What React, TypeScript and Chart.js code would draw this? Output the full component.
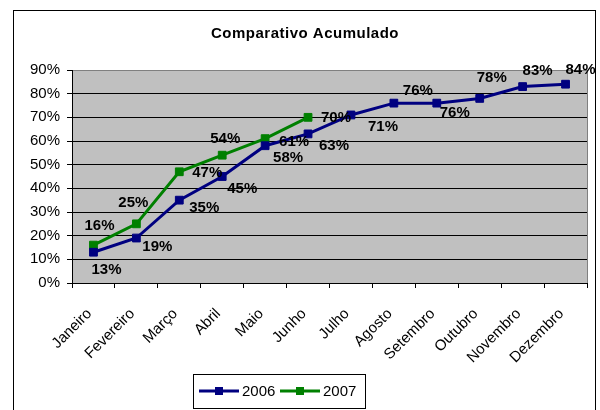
import React, { useEffect, useRef } from "react";
import { Chart, registerables } from "chart.js";

Chart.register(...registerables);

const months = [
  "Janeiro", "Fevereiro", "Março", "Abril", "Maio", "Junho",
  "Julho", "Agosto", "Setembro", "Outubro", "Novembro", "Dezembro",
];
const values2006 = [13, 19, 35, 45, 58, 63, 71, 76, 76, 78, 83, 84];
const values2007 = [16, 25, 47, 54, 61, 70];
const yTicks = [0, 10, 20, 30, 40, 50, 60, 70, 80, 90];
const chartTitle = "Comparativo Acumulado";

// label placement (style): offset of label centre from its point
const labelOffsets2006: [number, number][] = [
  [13, 18], [21, 9], [25, 8], [20, 12], [23, 12], [26, 12],
  [32, 12], [24, -12], [18, 10], [12, -21], [15, -16], [15, -14],
];
const labelOffsets2007: [number, number][] = [
  [6, -19], [-3, -21], [28, 1], [3, -16], [29, 3], [28, 1],
];

const FONT = '"Liberation Sans", Arial, sans-serif';
const NAVY = "#000080";
const GREEN = "#008000";

const framePlugin = {
  id: "frame",
  beforeDraw(chart: any) {
    const { ctx, chartArea } = chart;
    ctx.save();
    ctx.fillStyle = "#ffffff";
    ctx.fillRect(0, 0, chart.width, chart.height);
    ctx.strokeStyle = "#000";
    ctx.lineWidth = 1;
    ctx.strokeRect(13.5, 10.5, 582, 430);
    ctx.fillStyle = "#C0C0C0";
    ctx.fillRect(chartArea.left, chartArea.top, chartArea.right - chartArea.left, chartArea.bottom - chartArea.top);
    // title
    ctx.fillStyle = "#000";
    ctx.font = `bold 15px ${FONT}`;
    ctx.textAlign = "center";
    ctx.textBaseline = "middle";
    (ctx as any).letterSpacing = "0.5px";
    ctx.fillText(chartTitle, 305, 34);
    ctx.restore();
  },
  beforeDatasetsDraw(chart: any) {
    const { ctx, chartArea } = chart;
    ctx.save();
    ctx.strokeStyle = "#808080";
    ctx.lineWidth = 1;
    ctx.beginPath();
    ctx.moveTo(Math.round(chartArea.right) + 0.5, chartArea.top);
    ctx.lineTo(Math.round(chartArea.right) + 0.5, chartArea.bottom);
    ctx.stroke();
    ctx.restore();
  },
  afterDatasetsDraw(chart: any) {
    const { ctx } = chart;
    ctx.save();
    ctx.fillStyle = "#000";
    ctx.font = `bold 15px ${FONT}`;
    ctx.textAlign = "center";
    ctx.textBaseline = "middle";
    const offs = [labelOffsets2006, labelOffsets2007];
    chart.data.datasets.forEach((ds: any, di: number) => {
      const meta = chart.getDatasetMeta(di);
      meta.data.forEach((pt: any, i: number) => {
        const [dx, dy] = offs[di][i] || [0, 0];
        ctx.fillText(ds.data[i] + "%", pt.x + dx, pt.y + dy);
      });
    });
    ctx.restore();
  },
  afterDraw(chart: any) {
    const { ctx } = chart;
    ctx.save();
    ctx.strokeStyle = "#000";
    ctx.lineWidth = 1;
    ctx.fillStyle = "#fff";
    ctx.fillRect(193.5, 374.5, 172, 34);
    ctx.strokeRect(193.5, 374.5, 172, 34);
    const items = [
      { label: chart.data.datasets[0].label, color: NAVY, x: 199 },
      { label: chart.data.datasets[1].label, color: GREEN, x: 280 },
    ];
    const cy = 391;
    items.forEach((it) => {
      ctx.strokeStyle = it.color;
      ctx.lineWidth = 3;
      ctx.beginPath();
      ctx.moveTo(it.x, cy);
      ctx.lineTo(it.x + 40, cy);
      ctx.stroke();
      ctx.fillStyle = it.color;
      ctx.fillRect(it.x + 16, cy - 4, 8, 8);
      ctx.fillStyle = "#000";
      ctx.font = `15px ${FONT}`;
      ctx.textAlign = "left";
      ctx.textBaseline = "middle";
      ctx.fillText(it.label, it.x + 43, cy + 1);
    });
    ctx.restore();
  },
};

export default function App() {
  const ref = useRef<HTMLCanvasElement | null>(null);
  useEffect(() => {
    if (!ref.current) return;
    const chart = new Chart(ref.current, {
      type: "line",
      data: {
        labels: months,
        datasets: [
          {
            label: "2006",
            data: values2006,
            borderColor: NAVY,
            backgroundColor: NAVY,
            borderWidth: 3,
            pointStyle: "rect",
            pointRadius: 5.5,
            pointBorderWidth: 1,
            pointBackgroundColor: NAVY,
            pointBorderColor: NAVY,
            tension: 0,
          },
          {
            label: "2007",
            data: values2007,
            borderColor: GREEN,
            backgroundColor: GREEN,
            borderWidth: 3,
            pointStyle: "rect",
            pointRadius: 5.5,
            pointBorderWidth: 1,
            pointBackgroundColor: GREEN,
            pointBorderColor: GREEN,
            tension: 0,
          },
        ],
      },
      options: {
        animation: false,
        responsive: false,
        devicePixelRatio: 1,
        layout: { padding: { top: 70, right: 13, left: 0, bottom: 0 } },
        plugins: {
          legend: { display: false },
          title: { display: false },
          tooltip: { enabled: false },
        },
        scales: {
          x: {
            type: "category",
            offset: true,
            grid: {
              offset: true,
              drawOnChartArea: false,
              drawTicks: true,
              tickLength: 5,
              color: "#000",
            },
            border: { color: "#000", width: 1 },
            ticks: {
              autoSkip: false,
              minRotation: 45,
              maxRotation: 45,
              padding: 17,
              labelOffset: -4,
              color: "#000",
              font: { family: FONT, size: 15 },
            },
            afterFit: (s: any) => {
              s.height = 127;
            },
          },
          y: {
            min: 0,
            max: 90,
            grid: {
              color: (c: any) => (c.tick && c.tick.value === 90 ? "#808080" : "#000"),
              tickColor: "#000",
              tickLength: 5,
            },
            border: { color: "#000", width: 1 },
            afterBuildTicks: (s: any) => {
              s.ticks = yTicks.map((v) => ({ value: v }));
            },
            ticks: {
              padding: 7,
              color: "#000",
              font: { family: FONT, size: 15 },
              callback: (v: any) => v + "%",
            },
            afterFit: (s: any) => {
              s.width = 72;
            },
          },
        },
      },
      plugins: [framePlugin],
    });
    return () => chart.destroy();
  }, []);
  return (
    <div style={{ position: "absolute", left: 0, top: 0, width: 600, height: 410 }}>
      <canvas ref={ref} width={600} height={410} style={{ display: "block" }} />
    </div>
  );
}
